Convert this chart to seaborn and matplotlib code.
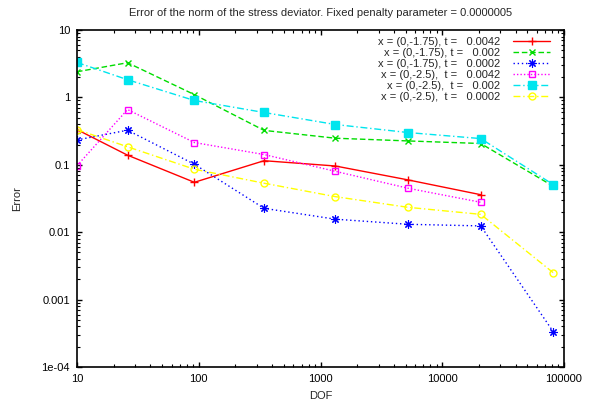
import matplotlib
matplotlib.use("Agg")
import matplotlib.pyplot as plt
import seaborn as sns
import numpy as np
from matplotlib.ticker import LogLocator, FixedLocator, FixedFormatter, NullFormatter

dof = [10, 26, 92, 344, 1324, 5236, 20700, 81700]

err_175_0042 = [0.333, 0.139, 0.055, 0.115, 0.096, 0.0597, 0.036]
err_175_002 = [2.40, 3.27, 1.10, 0.324, 0.248, 0.226, 0.207, 0.048]
err_175_0002 = [0.234, 0.326, 0.102, 0.0226, 0.0156, 0.0131, 0.0124, 3.33e-4]
err_25_0042 = [0.097, 0.66, 0.214, 0.142, 0.080, 0.0449, 0.0278]
err_25_002 = [3.30, 1.83, 0.90, 0.597, 0.396, 0.301, 0.245, 0.0508]
err_25_0002 = [0.333, 0.185, 0.086, 0.0533, 0.0337, 0.0234, 0.0184, 0.0025]

labels = [
    "x = (0,-1.75), t =   0.0042",
    "x = (0,-1.75), t =   0.002",
    "x = (0,-1.75), t =   0.0002",
    "x = (0,-2.5),  t =   0.0042",
    "x = (0,-2.5),  t =   0.002",
    "x = (0,-2.5),  t =   0.0002",
]
series = [err_175_0042, err_175_002, err_175_0002, err_25_0042, err_25_002, err_25_0002]

styles = [
    dict(color="#ff0000", ls="-", marker="+", ms=6, mfc="#ff0000", mew=1.0),
    dict(color="#00dd00", ls=(0, (4, 2)), marker="x", ms=4.5, mfc="#00dd00", mew=1.0),
    dict(color="#0000ff", ls=(0, (1, 2)), marker=(8, 2, 0), ms=6, mfc="#0000ff", mew=0.8),
    dict(color="#ff00ff", ls=(0, (1, 1.5)), marker="s", ms=5, mfc="none", mew=1.0),
    dict(color="#00e5ee", ls=(0, (5, 2, 1, 2)), marker="s", ms=5.5, mfc="#00e5ee", mew=1.0),
    dict(color="#ffff00", ls=(0, (5, 2, 1, 2)), marker="o", ms=5, mfc="none", mew=1.0),
]

sns.set_style("ticks")
plt.rcParams["font.family"] = ["Liberation Sans", "DejaVu Sans"]
plt.rcParams["font.size"] = 8

fig = plt.figure(figsize=(6.01, 4.05), dpi=100)
ax = fig.add_axes([77 / 601, 1 - 367 / 405, (564 - 77) / 601, (367 - 30) / 405])

for vals, lab, st in zip(series, labels, styles):
    x = dof[: len(vals)]
    sns.lineplot(x=x, y=vals, ax=ax, color=st["color"], linestyle=st["ls"],
                 marker=st["marker"], markersize=st["ms"], markerfacecolor=st["mfc"],
                 markeredgecolor=st["color"], markeredgewidth=st["mew"], linewidth=1.0,
                 label=lab, errorbar=None, sort=False)

ax.set_xscale("log")
ax.set_yscale("log")
ax.set_xlim(10, 100000)
ax.set_ylim(1e-4, 10)

ax.yaxis.set_major_locator(FixedLocator([1e-4, 1e-3, 1e-2, 1e-1, 1, 10]))
ax.yaxis.set_major_formatter(FixedFormatter(["1e-04", "0.001", "0.01", "0.1", "1", "10"]))
ax.xaxis.set_major_locator(FixedLocator([10, 100, 1000, 10000, 100000]))
ax.xaxis.set_major_formatter(FixedFormatter(["10", "100", "1000", "10000", "100000"]))
ax.xaxis.set_minor_locator(LogLocator(base=10, subs=np.arange(2, 10), numticks=20))
ax.yaxis.set_minor_locator(LogLocator(base=10, subs=np.arange(2, 10), numticks=20))
ax.xaxis.set_minor_formatter(NullFormatter())
ax.yaxis.set_minor_formatter(NullFormatter())

ax.tick_params(which="both", direction="in", top=True, right=True, colors="black",
               labelsize=8)
ax.tick_params(which="major", length=3.5, width=1, pad=5)
ax.tick_params(which="minor", length=2, width=0.8)
for s in ax.spines.values():
    s.set_visible(True)
    s.set_color("black")
    s.set_linewidth(1.2)

ax.set_xlabel("DOF", fontsize=8, labelpad=5)
ax.set_ylabel("Error", fontsize=8, labelpad=14)
ax.set_title("Error of the norm of the stress deviator. Fixed penalty parameter = 0.0000005",
             fontsize=8, pad=10)

leg = ax.legend(loc="upper right", bbox_to_anchor=(0.985, 1.0), frameon=False,
                markerfirst=False, handlelength=3.3, handletextpad=1.2,
                labelspacing=0.1, fontsize=8, borderaxespad=0.2)

fig.savefig("out.png", dpi=100)
